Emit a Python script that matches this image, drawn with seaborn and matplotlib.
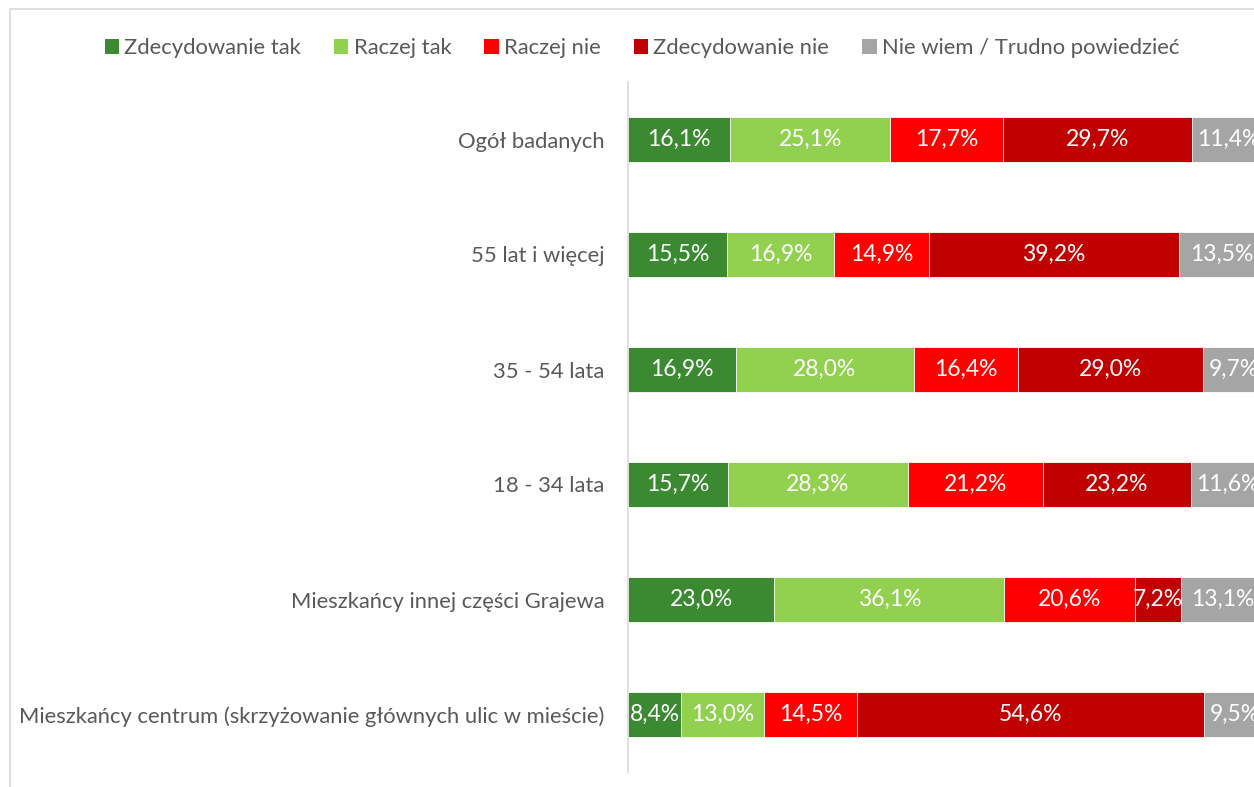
import matplotlib
matplotlib.use("Agg")
import matplotlib.pyplot as plt
from matplotlib.patches import Rectangle, Patch
import numpy as np
import pandas as pd
import seaborn as sns

groups = [
    "Ogół badanych",
    "55 lat i więcej",
    "35 - 54 lata",
    "18 - 34 lata",
    "Mieszkańcy innej części Grajewa",
    "Mieszkańcy centrum (skrzyżowanie głównych ulic w mieście)",
]
answers = [
    "Zdecydowanie tak",
    "Raczej tak",
    "Raczej nie",
    "Zdecydowanie nie",
    "Nie wiem / Trudno powiedzieć",
]
zdecydowanie_tak = [16.1, 15.5, 16.9, 15.7, 23.0, 8.4]
raczej_tak = [25.1, 16.9, 28.0, 28.3, 36.1, 13.0]
raczej_nie = [17.7, 14.9, 16.4, 21.2, 20.6, 14.5]
zdecydowanie_nie = [29.7, 39.2, 29.0, 23.2, 7.2, 54.6]
nie_wiem = [11.4, 13.5, 9.7, 11.6, 13.1, 9.5]

colors = ["#3B8A32", "#92D050", "#FF0000", "#C00000", "#A5A5A5"]
text_color = "#595959"

sns.set_theme(style="white")
plt.rcParams["font.family"] = ["Lato", "DejaVu Sans"]

series = [zdecydowanie_tak, raczej_tak, raczej_nie, zdecydowanie_nie, nie_wiem]
vals = np.array(series)            # shape (answers, groups)
cum = np.cumsum(vals, axis=0)
starts = cum - vals

fig = plt.figure(figsize=(12.54, 7.87), dpi=100)
# chart frame
fig.patches.append(Rectangle((10 / 1254, -0.1), 1.2, (787 - 9) / 787 + 0.1,
                             transform=fig.transFigure, fill=False,
                             edgecolor="#D9D9D9", linewidth=1.2, zorder=0))

ax = fig.add_axes([628 / 1254, 15 / 787, 636.6 / 1254, 690 / 787])

# stacked bars: draw cumulative totals from the last series to the first
for i in range(len(answers) - 1, -1, -1):
    df = pd.DataFrame({"group": groups, "value": cum[i]})
    sns.barplot(data=df, x="value", y="group", orient="h", color=colors[i],
                width=0.39, edgecolor="white", linewidth=0.6,
                saturation=1, ax=ax)

for i in range(len(answers)):
    for j in range(len(groups)):
        v = vals[i, j]
        ax.text(starts[i, j] + v / 2, j, f"{v:.1f}%".replace(".", ","),
                ha="center", va="center", color="white", fontsize=16.5)

ax.set_xlim(0, 100)
ax.set_ylim(5.5, -0.5)
ax.set_xlabel("")
ax.set_ylabel("")
ax.set_xticks([])
ax.tick_params(axis="y", length=0, pad=17, labelsize=15.85, labelcolor=text_color)
for s in ["top", "right", "bottom"]:
    ax.spines[s].set_visible(False)
ax.spines["left"].set_color("#D9D9D9")
ax.spines["left"].set_linewidth(1.2)

handles = [Patch(facecolor=c, edgecolor="none") for c in colors]
fig.legend(handles, answers, loc="center", bbox_to_anchor=(642 / 1254, 1 - 48 / 787),
           ncol=5, frameon=False, fontsize=15.8, labelcolor=text_color,
           handlelength=0.65, handleheight=0.65, handletextpad=0.25, columnspacing=1.5)

fig.savefig("out.png", dpi=100)
